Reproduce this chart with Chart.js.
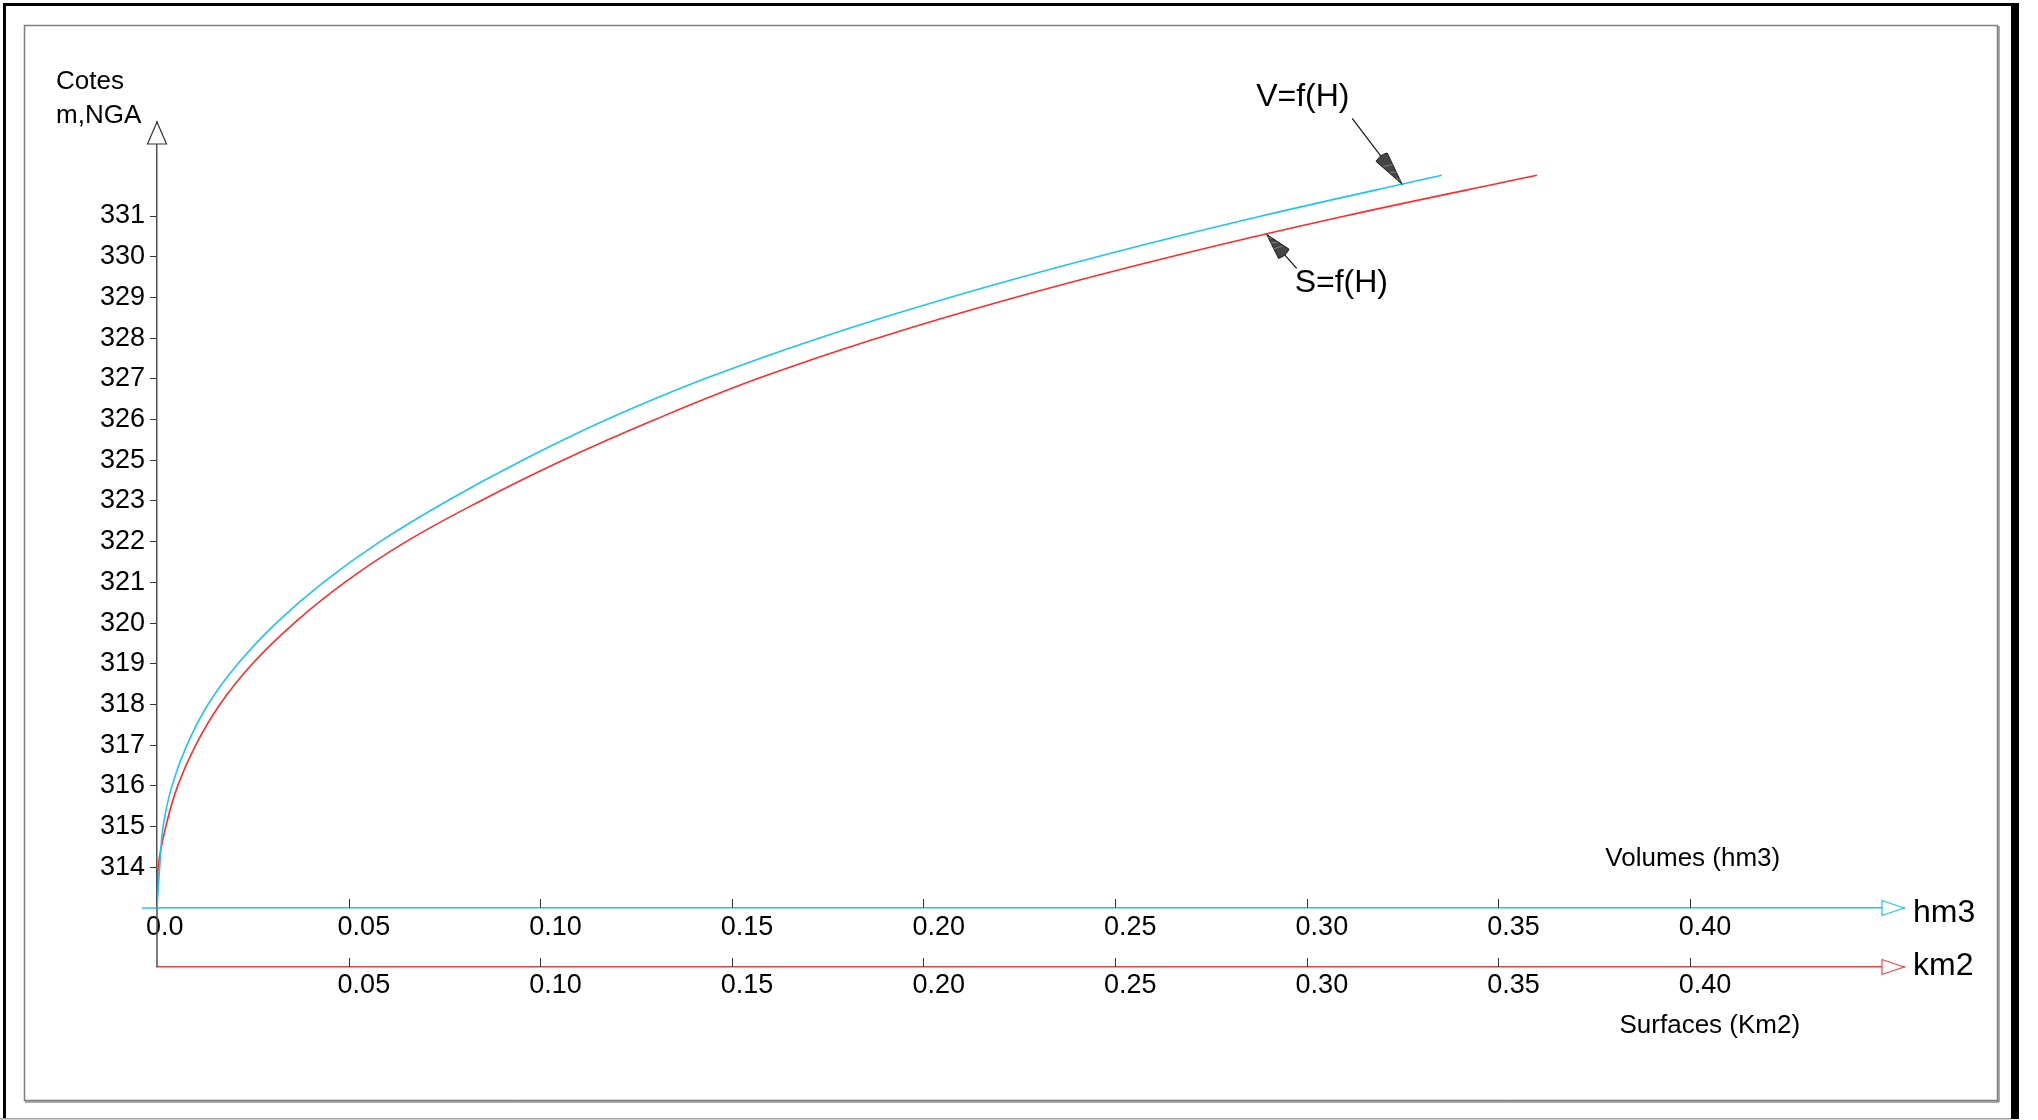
<!DOCTYPE html>
<html>
<head>
<meta charset="utf-8">
<title>Courbes hauteur - volume - surface</title>
<script src="https://cdn.jsdelivr.net/npm/chart.js@4"></script>
<style>
  html, body { margin: 0; padding: 0; background: #ffffff; }
  #wrap { width: 2038px; height: 1120px; position: relative; }
</style>
</head>
<body>
<div id="wrap"><canvas id="chart" width="2038" height="1120"></canvas></div>
<script>
// Levels of the reservoir on the vertical scale (one per surveyed slice)
const niveaux = [313, 314, 315, 316, 317, 318, 319, 320, 321, 322, 323, 324, 325, 326, 327, 328, 329, 330, 331];
// Stored volume at each level (hm3)
const volumes = [0, 0.0007, 0.0016, 0.0039, 0.0078, 0.0133, 0.0211, 0.0311, 0.0434, 0.0582, 0.0757, 0.0954, 0.1174, 0.1429, 0.1727, 0.2069, 0.2454, 0.2882, 0.3353];
// Flooded surface at each level (km2)
const surfaces = [0, 0.0003, 0.0023, 0.0054, 0.0101, 0.0164, 0.0249, 0.0358, 0.0490, 0.0650, 0.0844, 0.1059, 0.1300, 0.1566, 0.1879, 0.2239, 0.2646, 0.3100, 0.3601];

// Vertical ticks and their printed elevations (m, NGA)
const coteTicks = [314, 315, 316, 317, 318, 319, 320, 321, 322, 323, 324, 325, 326, 327, 328, 329, 330];
const coteLabels = ['314', '315', '316', '317', '318', '319', '320', '321', '322', '323', '325', '326', '327', '328', '329', '330', '331'];

// Horizontal ticks, shared by the volume and surface axes
const xTicks = [0.05, 0.10, 0.15, 0.20, 0.25, 0.30, 0.35, 0.40];
const xLabels = ['0.05', '0.10', '0.15', '0.20', '0.25', '0.30', '0.35', '0.40'];
const originLabel = '0.0';

// Curve labels and the level where their leader arrows touch the curves
const labelV = 'V=f(H)';
const labelS = 'S=f(H)';
const levelV = 330.78;
const levelS = 329.55;

const FONT = "'Liberation Sans', Arial, Helvetica, sans-serif";
const BLUE = '#1ec4f4';
const RED = '#ff2b2b';
const RED_AXIS = '#f04545';
const AXIS_GREY = '#505050';

const Y_MIN = 313, Y_MAX = 332.31;
const X_MAX = 0.4559;

function pointsFor(values) {
  return niveaux.map((lv, i) => ({ x: values[i], y: lv }));
}

// x on a curve at a given level, by linear interpolation between surveyed levels
function valueAtLevel(values, level) {
  for (let i = 1; i < niveaux.length; i++) {
    if (level <= niveaux[i]) {
      const t = (level - niveaux[i - 1]) / (niveaux[i] - niveaux[i - 1]);
      return values[i - 1] + t * (values[i] - values[i - 1]);
    }
  }
  return values[values.length - 1];
}

function openArrow(ctx, pts, color) {
  ctx.beginPath();
  ctx.moveTo(pts[0][0], pts[0][1]);
  ctx.lineTo(pts[1][0], pts[1][1]);
  ctx.lineTo(pts[2][0], pts[2][1]);
  ctx.closePath();
  ctx.fillStyle = '#ffffff';
  ctx.fill();
  ctx.strokeStyle = color;
  ctx.lineWidth = 1.2;
  ctx.stroke();
}

function leader(ctx, tip, dx, dy, headLen, headHalf) {
  const len = Math.hypot(dx, dy);
  const ux = -dx / len, uy = -dy / len;      // from tail towards tip
  const tail = { x: tip.x + dx, y: tip.y + dy };
  const bx = tip.x - ux * headLen, by = tip.y - uy * headLen;
  const nx = -uy, ny = ux;
  ctx.strokeStyle = '#111111';
  ctx.lineWidth = 1.2;
  ctx.beginPath();
  ctx.moveTo(tail.x, tail.y);
  ctx.lineTo(bx, by);
  ctx.stroke();
  ctx.beginPath();
  ctx.moveTo(tip.x, tip.y);
  ctx.lineTo(bx + nx * headHalf, by + ny * headHalf);
  ctx.quadraticCurveTo(bx - ux * 3, by - uy * 3, bx - nx * headHalf, by - ny * headHalf);
  ctx.closePath();
  ctx.fillStyle = '#464646';
  ctx.fill();
  ctx.strokeStyle = '#1a1a1a';
  ctx.lineWidth = 1;
  ctx.stroke();
  // hatching inside the head
  ctx.strokeStyle = '#8a8a8a';
  ctx.lineWidth = 0.8;
  for (let k = 1; k < 4; k++) {
    const f = k / 4;
    const cx = tip.x - ux * headLen * f, cy = tip.y - uy * headLen * f;
    const w = headHalf * f * 0.8;
    ctx.beginPath();
    ctx.moveTo(cx + nx * w, cy + ny * w);
    ctx.lineTo(cx - nx * w + ux * 4, cy - ny * w + uy * 4);
    ctx.stroke();
  }
}

const decor = {
  id: 'decor',
  afterDraw(chart) {
    const ctx = chart.ctx;
    const sx = chart.scales.x, sx2 = chart.scales.x2, sy = chart.scales.y;
    const area = chart.chartArea;
    const x0 = sx.getPixelForValue(0);
    const yV = sx.top, yS = sx2.top;
    const xEnd = area.right;

    ctx.save();

    // outer frame
    ctx.fillStyle = '#000000';
    ctx.fillRect(3, 3, 3, 1116);
    ctx.fillRect(3, 3, 2016, 3);
    ctx.fillRect(2011, 3, 8, 1116);
    ctx.fillStyle = '#a0a0a0';
    ctx.fillRect(0, 1118, 2011, 1.5);

    // inner frame
    ctx.strokeStyle = '#7d7d7d';
    ctx.lineWidth = 1.5;
    ctx.strokeRect(24.5, 25.5, 1973, 1075);
    ctx.strokeStyle = '#5a5a5a';
    ctx.lineWidth = 1;
    ctx.beginPath();
    ctx.moveTo(1999, 26); ctx.lineTo(1999, 1102); ctx.lineTo(25, 1102);
    ctx.stroke();

    // vertical axis prolonged down to the surface axis
    ctx.strokeStyle = AXIS_GREY;
    ctx.lineWidth = 1.5;
    ctx.beginPath();
    ctx.moveTo(x0, yV);
    ctx.lineTo(x0, yS);
    ctx.stroke();

    // volume axis prolonged left of the origin
    ctx.strokeStyle = BLUE;
    ctx.lineWidth = 1.5;
    ctx.beginPath();
    ctx.moveTo(x0 - 15, yV);
    ctx.lineTo(x0, yV);
    ctx.stroke();

    // arrow heads of the axes
    openArrow(ctx, [[x0, area.top], [x0 - 9.5, area.top + 22], [x0 + 9.5, area.top + 22]], '#333333');
    openArrow(ctx, [[xEnd, yV], [xEnd - 22, yV - 7.5], [xEnd - 22, yV + 7.5]], BLUE);
    openArrow(ctx, [[xEnd, yS], [xEnd - 22, yS - 7.5], [xEnd - 22, yS + 7.5]], RED_AXIS);

    // tick marks standing on the horizontal axes
    ctx.strokeStyle = '#333333';
    ctx.lineWidth = 1;
    xTicks.forEach(v => {
      const p1 = Math.round(sx.getPixelForValue(v)) + 0.5;
      const p2 = Math.round(sx2.getPixelForValue(v)) + 0.5;
      ctx.beginPath();
      ctx.moveTo(p1, yV - 9); ctx.lineTo(p1, yV);
      ctx.moveTo(p2, yS - 9); ctx.lineTo(p2, yS);
      ctx.stroke();
    });

    // texts
    ctx.fillStyle = '#000000';
    ctx.textBaseline = 'alphabetic';
    ctx.textAlign = 'left';
    ctx.font = '26px ' + FONT;
    ctx.fillText('Cotes', x0 - 101, 89);
    ctx.fillText('m,NGA', x0 - 101, 123);

    const x40 = sx.getPixelForValue(0.40);
    ctx.textAlign = 'center';
    ctx.fillText('Volumes (hm3)', x40 + 3, yV - 42);
    ctx.fillText('Surfaces (Km2)', x40 + 20, yS + 66);

    ctx.textAlign = 'left';
    ctx.font = '32px ' + FONT;
    ctx.fillText('hm3', xEnd + 9, yV + 14);
    ctx.fillText('km2', xEnd + 9, yS + 8);

    // curve labels with leader arrows
    const tipV = { x: sx.getPixelForValue(valueAtLevel(volumes, levelV)), y: sy.getPixelForValue(levelV) };
    const tipS = { x: sx2.getPixelForValue(valueAtLevel(surfaces, levelS)), y: sy.getPixelForValue(levelS) };
    leader(ctx, tipV, -50, -66, 34, 7);
    leader(ctx, tipS, 30, 34, 26, 7);
    ctx.fillStyle = '#000000';
    ctx.font = '32px ' + FONT;
    ctx.fillText(labelV, tipV.x - 146, tipV.y - 78);
    ctx.fillText(labelS, tipS.x + 28, tipS.y + 58);

    ctx.restore();
  }
};

const ctx = document.getElementById('chart').getContext('2d');
new Chart(ctx, {
  type: 'scatter',
  data: {
    datasets: [
      {
        label: labelV,
        data: pointsFor(volumes),
        xAxisID: 'x',
        yAxisID: 'y',
        showLine: true,
        borderColor: BLUE,
        borderWidth: 1.6,
        pointRadius: 0,
        tension: 0.4,
        fill: false
      },
      {
        label: labelS,
        data: pointsFor(surfaces),
        xAxisID: 'x2',
        yAxisID: 'y',
        showLine: true,
        borderColor: RED,
        borderWidth: 1.6,
        pointRadius: 0,
        tension: 0.4,
        fill: false
      }
    ]
  },
  options: {
    responsive: false,
    animation: false,
    devicePixelRatio: 1,
    layout: { padding: { left: 0, top: 122, right: 134, bottom: 93 } },
    plugins: {
      legend: { display: false },
      tooltip: { enabled: false },
      title: { display: false }
    },
    scales: {
      x: {
        type: 'linear',
        position: 'bottom',
        weight: 0,
        min: 0,
        max: X_MAX,
        afterBuildTicks: s => { s.ticks = [0, ...xTicks].map(v => ({ value: v })); },
        afterFit: s => { s.height = 59; },
        grid: { display: false, drawTicks: false },
        border: { display: true, color: BLUE, width: 1.5 },
        ticks: {
          autoSkip: false,
          maxRotation: 0,
          minRotation: 0,
          align: 'start',
          labelOffset: -11,
          padding: 3,
          color: '#000000',
          font: { family: FONT, size: 27 },
          callback: (v, i) => [originLabel, ...xLabels][i]
        }
      },
      x2: {
        type: 'linear',
        position: 'bottom',
        weight: 1,
        min: 0,
        max: X_MAX,
        afterBuildTicks: s => { s.ticks = xTicks.map(v => ({ value: v })); },
        afterFit: s => { s.height = 60; },
        grid: { display: false, drawTicks: false },
        border: { display: true, color: RED_AXIS, width: 1.5 },
        ticks: {
          autoSkip: false,
          maxRotation: 0,
          minRotation: 0,
          align: 'start',
          labelOffset: -11,
          padding: 2,
          color: '#000000',
          font: { family: FONT, size: 27 },
          callback: (v, i) => xLabels[i]
        }
      },
      y: {
        type: 'linear',
        position: 'left',
        min: Y_MIN,
        max: Y_MAX,
        afterBuildTicks: s => { s.ticks = coteTicks.map(v => ({ value: v })); },
        afterFit: s => { s.width = 157; },
        grid: { display: true, drawOnChartArea: false, drawTicks: true, tickLength: 7, color: '#333333', lineWidth: 1 },
        border: { display: true, color: AXIS_GREY, width: 1.5 },
        ticks: {
          autoSkip: false,
          padding: 5,
          color: '#000000',
          font: { family: FONT, size: 27 },
          callback: (v, i) => coteLabels[i]
        }
      }
    }
  },
  plugins: [decor]
});
</script>
</body>
</html>
